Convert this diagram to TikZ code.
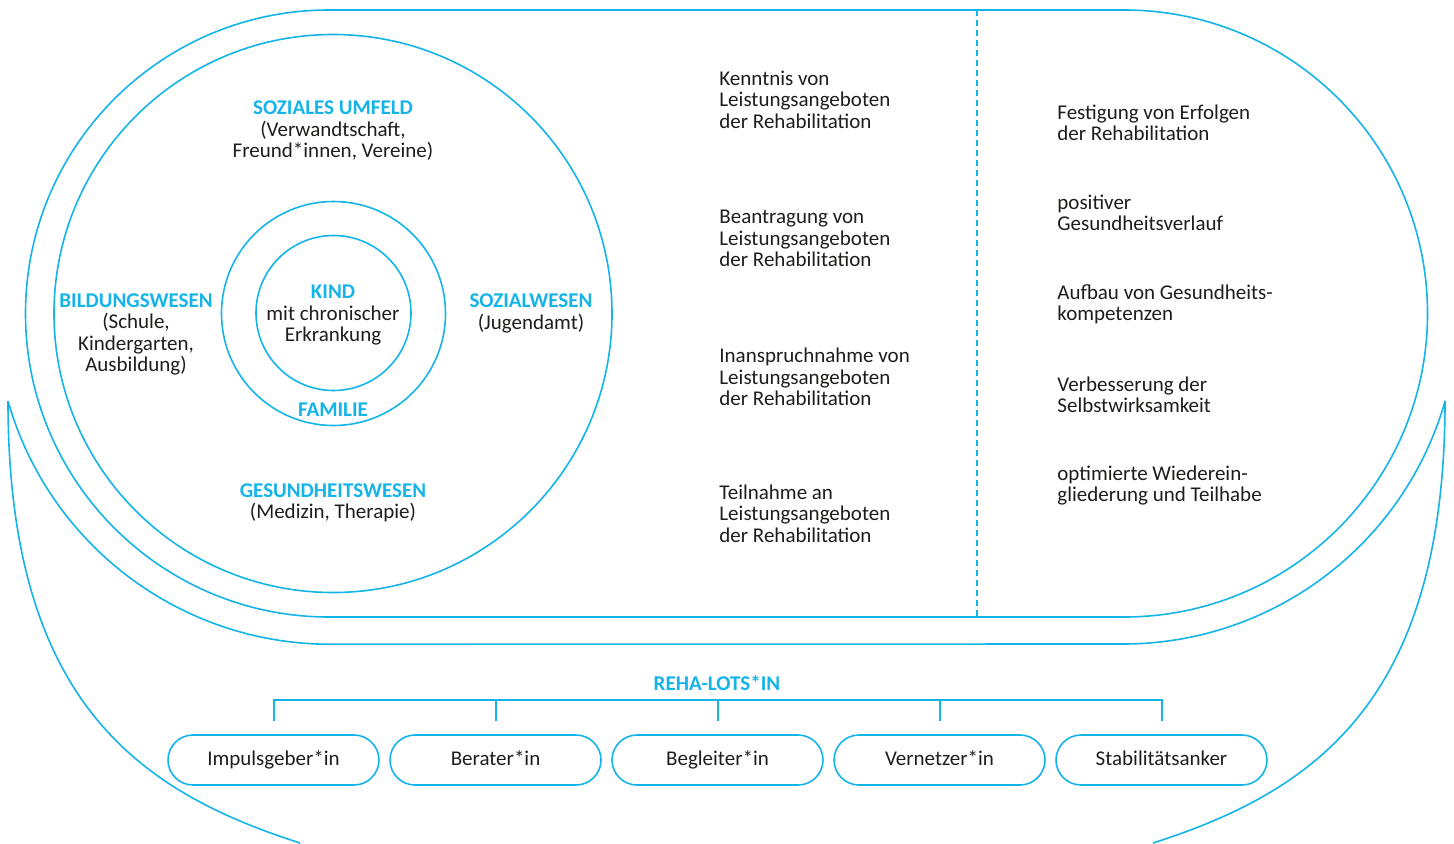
\documentclass[tikz,border=0pt]{standalone}
\usepackage{fontspec}
\setmainfont{Carlito}
\usetikzlibrary{calc}
\definecolor{cy}{HTML}{14B4E8}
\definecolor{txt}{HTML}{1D1D1B}
\tikzset{
  ln/.style={draw=cy, line width=0.8pt},
  lbl/.style={text=txt, inner sep=0pt, font=\fontsize{10.5}{10.75}\selectfont},
  hd/.style={text=cy, inner sep=0pt, font=\fontsize{10.5}{10.75}\selectfont\bfseries},
  pill/.style={ln, rounded corners=12.5pt, minimum width=105.5pt, minimum height=25pt, inner sep=0pt, text height=7.5pt, text depth=2.5pt, text=txt, font=\fontsize{10.5}{10.75}\selectfont},
}
\begin{document}
\begin{tikzpicture}[x=0.5pt,y=0.5pt]
\useasboundingbox (0,0) rectangle (1454,843);
% inner stadium
\draw[ln] (329,833) -- (1124,833) arc[start angle=90, end angle=-90, radius=303.5] -- (329,226) arc[start angle=270, end angle=90, radius=303.5] -- cycle;
\draw[ln, dash pattern=on 3pt off 2pt] (977,833) -- (977,226);
% second shape
\coordinate (lt) at (8,442);
\coordinate (rt) at (1445,442);
\draw[ln] (lt) arc[start angle=195.9, end angle=270, radius=335] -- (1123,199) arc[start angle=270, end angle=344.1, radius=335];
% big U
\draw[ln] (lt) .. controls (8,142) and (138,52) .. (300,0);
\draw[ln] (rt) .. controls (1445,142) and (1315,52) .. (1153,0);
% circles
\draw[ln] (333,529.5) circle[radius=279];
\draw[ln] (333.5,529.5) circle[radius=112];
\draw[ln] (333.5,530) circle[radius=77.5];
% left texts
\node[lbl, align=center] (soz) at (333,712) {\textcolor{cy}{\bfseries SOZIALES UMFELD}\\(Verwandtschaft,\\Freund*innen, Vereine)};
\node[lbl, align=center] (bild) at (136,508.5) {\textcolor{cy}{\bfseries BILDUNGSWESEN}\\(Schule,\\Kindergarten,\\Ausbildung)};
\node[lbl, align=center] (sozw) at (531,529.5) {\textcolor{cy}{\bfseries SOZIALWESEN}\\(Jugendamt)};
\node[lbl, align=center] (kind) at (333,528) {\textcolor{cy}{\bfseries KIND}\\mit chronischer\\Erkrankung};
\node[hd] (fam) at (333,433) {FAMILIE};
\node[lbl, align=center] (ges) at (333,340) {\textcolor{cy}{\bfseries GESUNDHEITSWESEN}\\(Medizin, Therapie)};
% middle column
\node[lbl, align=left, anchor=west] (m1) at (719,743.5) {Kenntnis von\\Leistungsangeboten\\der Rehabilitation};
\node[lbl, align=left, anchor=west] (m2) at (719,604.5) {Beantragung von\\Leistungsangeboten\\der Rehabilitation};
\node[lbl, align=left, anchor=west] (m3) at (719,466) {Inanspruchnahme von\\Leistungsangeboten\\der Rehabilitation};
\node[lbl, align=left, anchor=west] (m4) at (719,329.5) {Teilnahme an\\Leistungsangeboten\\der Rehabilitation};
% right column
\node[lbl, align=left, anchor=west] (r1) at (1057,720) {Festigung von Erfolgen\\der Rehabilitation};
\node[lbl, align=left, anchor=west] (r2) at (1057,630) {positiver\\Gesundheitsverlauf};
\node[lbl, align=left, anchor=west] (r3) at (1057,538.5) {Aufbau von Gesundheits-\\kompetenzen};
\node[lbl, align=left, anchor=west] (r4) at (1057,448) {Verbesserung der\\Selbstwirksamkeit};
\node[lbl, align=left, anchor=west] (r5) at (1057,357.5) {optimierte Wiederein-\\gliederung und Teilhabe};
% bottom
\node[hd] (lotse) at (717,160) {REHA-LOTS*IN};
\node[pill] (p1) at (273.5,83) {Impulsgeber*in};
\node[pill] (p2) at (495.5,83) {Berater*in};
\node[pill] (p3) at (717.5,83) {Begleiter*in};
\node[pill] (p4) at (939.5,83) {Vernetzer*in};
\node[pill] (p5) at (1161.5,83) {Stabilitätsanker};
\coordinate (b1) at ($(p1.north)+(0,13)$);
\coordinate (b2) at ($(p2.north)+(0,13)$);
\coordinate (b3) at ($(p3.north)+(0,13)$);
\coordinate (b4) at ($(p4.north)+(0,13)$);
\coordinate (b5) at ($(p5.north)+(0,13)$);
\draw[ln, line width=1pt] (b1) -- ++(0,21) -| (b5);
\draw[ln, line width=1pt] (b2) -- ++(0,21);
\draw[ln, line width=1pt] (b3) -- ++(0,21);
\draw[ln, line width=1pt] (b4) -- ++(0,21);
\end{tikzpicture}
\end{document}
